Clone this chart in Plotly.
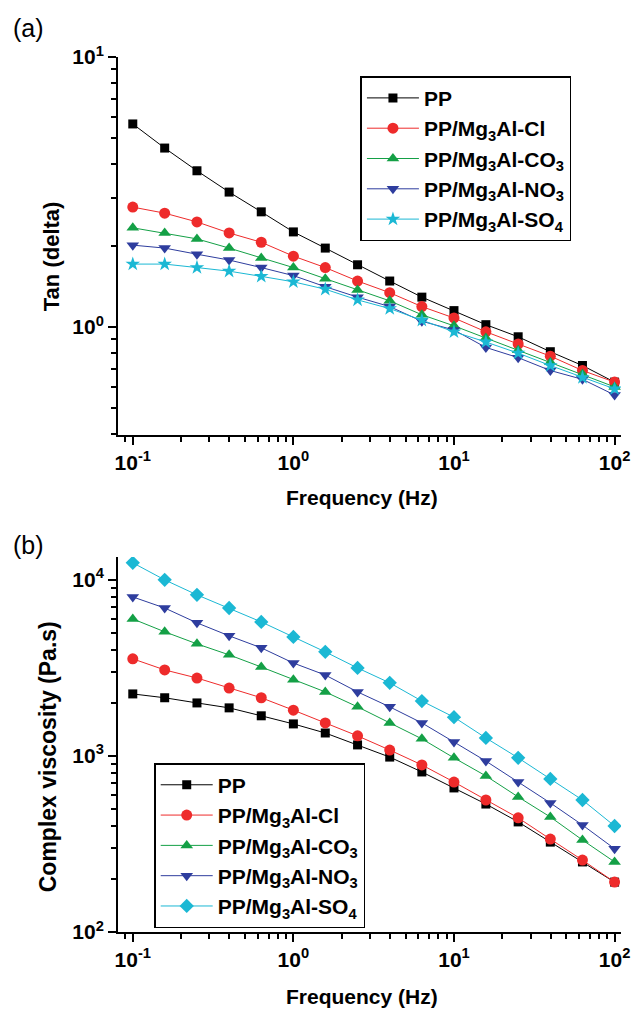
import plotly.graph_objects as go

freq = [0.1, 0.158, 0.251, 0.398, 0.631, 1.0, 1.58, 2.51, 3.98, 6.31,
        10.0, 15.8, 25.1, 39.8, 63.1, 100.0]

names = ["PP", "PP/Mg<sub>3</sub>Al-Cl", "PP/Mg<sub>3</sub>Al-CO<sub>3</sub>",
         "PP/Mg<sub>3</sub>Al-NO<sub>3</sub>", "PP/Mg<sub>3</sub>Al-SO<sub>4</sub>"]

tan_pp = [5.65, 4.6, 3.79, 3.16, 2.67, 2.25, 1.96, 1.70, 1.48, 1.29, 1.15, 1.02, 0.92, 0.81, 0.72, 0.625]
tan_cl = [2.78, 2.64, 2.45, 2.23, 2.06, 1.83, 1.66, 1.48, 1.34, 1.19, 1.08, 0.96, 0.865, 0.78, 0.69, 0.625]
tan_co3 = [2.33, 2.23, 2.12, 1.96, 1.80, 1.66, 1.51, 1.37, 1.25, 1.11, 1.01, 0.91, 0.82, 0.74, 0.67, 0.60]
tan_no3 = [2.01, 1.96, 1.86, 1.77, 1.66, 1.55, 1.41, 1.29, 1.19, 1.05, 0.975, 0.84, 0.77, 0.69, 0.64, 0.56]
tan_so4 = [1.71, 1.71, 1.66, 1.61, 1.54, 1.47, 1.38, 1.26, 1.17, 1.06, 0.96, 0.88, 0.80, 0.72, 0.65, 0.59]

visc_pp = [2250, 2140, 2000, 1875, 1690, 1520, 1350, 1155, 985, 811, 658, 533, 422, 324, 250, 192]
visc_cl = [3560, 3080, 2770, 2430, 2140, 1820, 1540, 1300, 1080, 889, 711, 562, 445, 337, 256, 192]
visc_co3 = [6000, 5070, 4330, 3750, 3200, 2710, 2310, 1900, 1540, 1250, 975, 770, 585, 450, 333, 250]
visc_no3 = [8000, 6920, 5700, 4810, 4110, 3370, 2880, 2310, 1900, 1540, 1200, 935, 711, 541, 405, 297]
visc_so4 = [12500, 10000, 8220, 6920, 5770, 4740, 3900, 3160, 2600, 2050, 1660, 1265, 975, 740, 562, 400]

colors = ["#000000", "#EE2B2B", "#14A046", "#2E3D9E", "#1BB8D4"]
sym_top = ["square", "circle", "triangle-up", "triangle-down", "star"]
sym_bot = ["square", "circle", "triangle-up", "triangle-down", "diamond"]
sizes = [9, 11, 11, 11, 11]

FONT = "Liberation Sans"

fig = go.Figure()
top_data = [tan_pp, tan_cl, tan_co3, tan_no3, tan_so4]
bot_data = [visc_pp, visc_cl, visc_co3, visc_no3, visc_so4]
for i in range(5):
    fig.add_trace(go.Scatter(
        x=freq, y=top_data[i], name=names[i], mode="lines+markers",
        line=dict(color=colors[i], width=1),
        marker=dict(symbol=sym_top[i], color=colors[i], size=sizes[i]),
        xaxis="x", yaxis="y", legend="legend", legendgroup="t%d" % i))
for i in range(5):
    fig.add_trace(go.Scatter(
        x=freq, y=bot_data[i], name=names[i], mode="lines+markers",
        line=dict(color=colors[i], width=1),
        marker=dict(symbol=sym_bot[i], color=colors[i], size=sizes[i]),
        xaxis="x2", yaxis="y2", legend="legend2", legendgroup="b%d" % i))

xt_vals = [0.1, 1, 10, 100]
xt_text = ["10<sup>-1</sup>", "10<sup>0</sup>", "10<sup>1</sup>", "10<sup>2</sup>"]
x_minor = [0.09] + [m * 10 ** e for e in (-1, 0, 1) for m in range(2, 10)]

tickfont = dict(family=FONT, size=21, color="black", weight="bold")

def xaxis_def(anchor):
    return dict(type="log", range=[-1.092, 2.04], domain=[0, 1], anchor=anchor,
                showline=True, linecolor="black", linewidth=2, mirror=False,
                ticks="outside", ticklen=8, tickwidth=2, tickcolor="black",
                tickvals=xt_vals, ticktext=xt_text, tickfont=tickfont,
                showgrid=False, zeroline=False,
                minor=dict(tickvals=x_minor, ticks="outside", ticklen=5,
                           tickwidth=1.5, tickcolor="black", showgrid=False))

y1_minor = [m / 10 for m in range(4, 10)] + [m for m in range(2, 10)]
y2_minor = [m * 10 ** e for e in (2, 3) for m in range(2, 10)]

legfont = dict(family=FONT, size=21, color="black", weight="bold")

fig.update_layout(
    width=642, height=1011,
    margin=dict(l=118, r=12, t=57, b=79),
    paper_bgcolor="white", plot_bgcolor="white",
    xaxis=xaxis_def("y"),
    xaxis2=xaxis_def("y2"),
    yaxis=dict(type="log", range=[-0.4, 1], domain=[0.568, 1], anchor="x",
               showline=True, linecolor="black", linewidth=2,
               ticks="outside", ticklen=8, tickwidth=2, tickcolor="black",
               tickvals=[1, 10], ticktext=["10<sup>0</sup>", "10<sup>1</sup>"],
               tickfont=tickfont, showgrid=False, zeroline=False,
               minor=dict(tickvals=y1_minor, ticks="outside", ticklen=5,
                          tickwidth=1.5, tickcolor="black", showgrid=False)),
    yaxis2=dict(type="log", range=[2, 4.13], domain=[0, 0.4286], anchor="x2",
                showline=True, linecolor="black", linewidth=2,
                ticks="outside", ticklen=8, tickwidth=2, tickcolor="black",
                tickvals=[100, 1000, 10000],
                ticktext=["10<sup>2</sup>", "10<sup>3</sup>", "10<sup>4</sup>"],
                tickfont=tickfont, showgrid=False, zeroline=False,
                minor=dict(tickvals=y2_minor, ticks="outside", ticklen=5,
                           tickwidth=1.5, tickcolor="black", showgrid=False)),
    legend=dict(x=0.482, y=0.978, xanchor="left", yanchor="top",
                bordercolor="black", borderwidth=1.5, bgcolor="white",
                font=legfont, tracegroupgap=0, itemwidth=52, itemsizing="trace"),
    legend2=dict(x=0.072, y=0.193, xanchor="left", yanchor="top",
                 bordercolor="black", borderwidth=1.5, bgcolor="white",
                 font=legfont, tracegroupgap=0, itemwidth=52, itemsizing="trace"),
    showlegend=True,
)

def px_to_paper(px, py):
    return (px - 118) / 512, (932 - py) / 875

ann = []
for text, px, py, size, bold, angle in [
    ("(a)", 27, 28, 25, False, 0),
    ("(b)", 27, 545, 25, False, 0),
    ("Frequency (Hz)", 366, 497, 21, True, 0),
    ("Frequency (Hz)", 366, 996, 21, True, 0),
    ("Tan (delta)", 50, 256, 22, True, -90),
    ("Complex viscosity (Pa.s)", 47, 757, 23, True, -90),
]:
    x, y = px_to_paper(px, py)
    ann.append(dict(text=text, x=x, y=y, xref="paper", yref="paper",
                    xanchor="center", yanchor="middle", showarrow=False,
                    textangle=angle,
                    font=dict(family=FONT, size=size, color="black",
                              weight="bold" if bold else "normal")))
fig.update_layout(annotations=ann)

fig.write_html("out.html", config={"displayModeBar": False},
               post_script="document.body.style.margin='0';document.body.style.overflow='hidden';")
